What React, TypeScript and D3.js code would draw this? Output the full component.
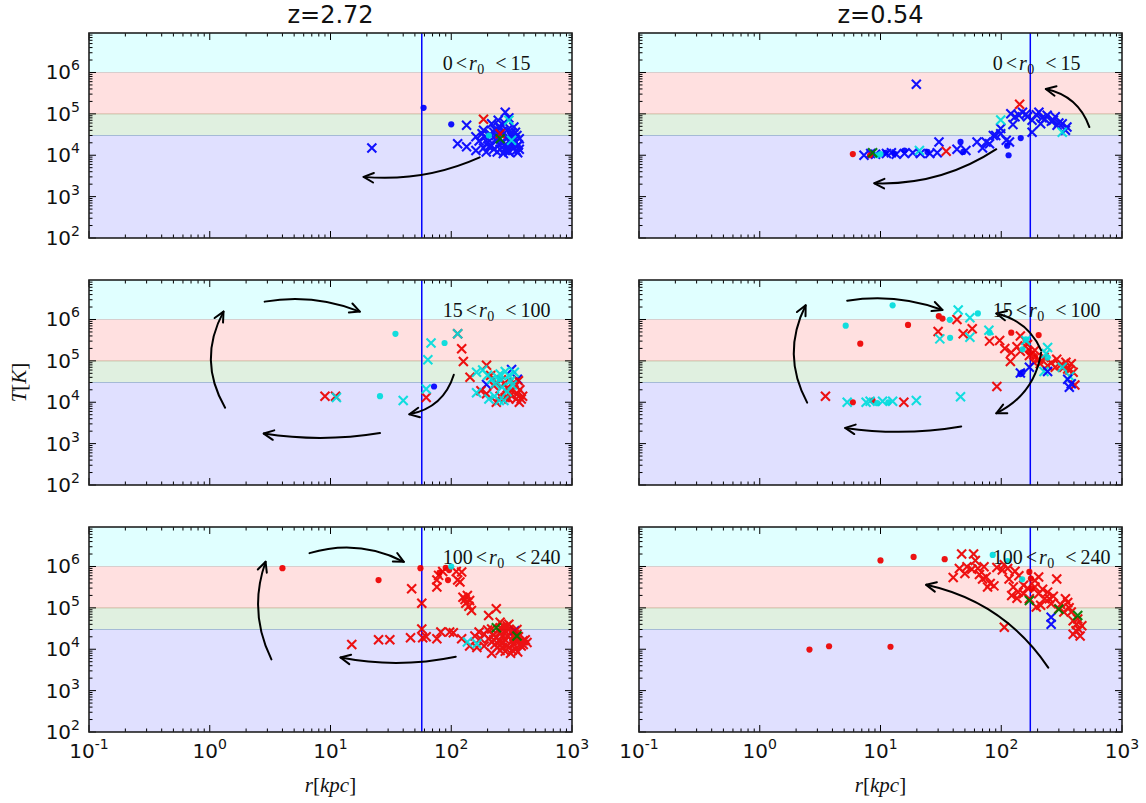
import React from 'react';
import * as d3 from 'd3';

type P = [number, number];

// ---------- data: [r (kpc), T (K)] ----------
const TITLES = ['z=2.72', 'z=0.54'];
const R0_BINS: [string, string][] = [['0', '15'], ['15', '100'], ['100', '240']];
const R_VIR = [57, 174];
const X_TICKS = [0.1, 1, 10, 100, 1000];
const X_EXP = ['-1', '0', '1', '2', '3'];
const Y_TICKS = [1e2, 1e3, 1e4, 1e5, 1e6];
const Y_EXP = ['2', '3', '4', '5', '6'];
const BANDS: [number, number, string][] = [
  [1e6, 1e7, 'cyan'],
  [1e5, 1e6, 'red'],
  [3e4, 1e5, 'green'],
  [1e2, 3e4, 'blue'],
];

// panel A: z=2.72, 0<r0<15
const A_bx: P[] = [[22,1.5e4],[134,5.3e4],[280,1.1e5],[245,7e4],[216,5.8e4],[254,4.4e4],[290,4e4],[340,3.6e4],[180,3.3e4],[160,2.8e4],[200,2.5e4],[235,2.3e4],[270,2.1e4],[330,2.3e4],[355,1.7e4],[290,1.6e4],[254,1.4e4],[216,1.7e4],[113,1.9e4],[134,1.6e4],[160,1.3e4],[195,1.2e4],[300,1.2e4],[355,1.15e4],[270,1.1e4],[235,3e4],[316,2.8e4],[366,2.5e4],[366,1.4e4],[185,4e4],[205,1.6e4],[330,4.8e4],[310,3.2e4],[260,2e4],[225,3.6e4],[345,1.3e4],[280,1.3e4],[240,1.2e4],[170,2.2e4],[190,2.8e4],[210,3.2e4],[230,4.2e4],[250,5e4],[265,3.8e4],[285,2.6e4],[300,2.2e4],[320,1.9e4],[340,2.1e4],[360,1.8e4],[250,1.8e4],[225,1.4e4],[295,1.3e4],[330,1.5e4],[315,3.6e4],[275,6e4],[300,8e4],[350,3e4],[200,2e4],[240,2.6e4],[185,1.5e4]];
const A_bo: P[] = [[59,1.4e5],[100,5.6e4]];
const A_rx: P[] = [[185,7.4e4],[254,3.3e4]];
const A_cx: P[] = [[300,7e4],[316,2.3e4]];
const A_co: P[] = [[205,3e4]];
const A_gx: P[] = [[254,2.5e4]];

// panel B: z=0.54, 0<r0<15
const B_bx: P[] = [[19.8,5.2e5],[7.3,1e4],[9.1,1.05e4],[11.2,1.1e4],[12.3,1.15e4],[15.8,1.1e4],[18.5,1.15e4],[21.4,1.1e4],[25.6,1.1e4],[29.5,1.15e4],[30.5,2.1e4],[43,1.4e4],[51,1.3e4],[63,2.1e4],[70,1.5e4],[80,1.9e4],[86,3e4],[99,3.3e4],[110,2.3e4],[117,2.1e4],[120,1e5],[130,8.5e4],[125,5.5e4],[140,9.3e4],[150,1.1e5],[165,8.5e4],[180,7e4],[180,3.6e4],[205,1.1e5],[218,8e4],[212,5.8e4],[240,9.3e4],[260,6.6e4],[280,8.5e4],[290,5.3e4],[320,5.8e4],[350,4.8e4],[340,4e4],[99,4.4e4],[90,3e4],[75,2.1e4],[195,9.5e4],[230,7.5e4],[270,7e4],[300,6e4],[160,9.8e4],[13.5,1.05e4],[8.3,1.1e4]];
const B_bo: P[] = [[15.8,1.3e4],[24.5,1.2e4],[46,2.1e4],[48.5,1.2e4],[112,1.7e4],[115,1e4],[145,2.6e4],[11,1.15e4],[13,1.1e4]];
const B_ro: P[] = [[5.9,1.07e4],[8.2,1e4]];
const B_rx: P[] = [[35,1.25e4],[142,1.7e5]];
const B_cx: P[] = [[21,1.3e4],[99,7.1e4],[320,3.6e4]];
const B_co: P[] = [[9.4,1e4],[10,1.07e4]];
const B_gx: P[] = [[8.6,1.15e4]];

// panel C: z=2.72, 15<r0<100
const C_bx: P[] = [[316,6.2e4],[353,3.6e4],[196,2.7e4]];
const C_bo: P[] = [[72,2.4e4]];
const C_rx: P[] = [[113,4.5e5],[122,1.95e5],[126,9.6e4],[9,1.4e4],[11,1.4e4],[62,1.3e4],[143,4e4],[196,7.8e4],[176,1.9e4],[196,1.6e4],[236,3e4],[273,2.8e4],[316,1.9e4],[353,1.6e4],[380,1.2e4],[366,1e4],[300,1.2e4],[254,1.4e4],[212,4.4e4],[330,3e4],[390,1.4e4],[236,1e4],[260,3.5e4],[290,2.2e4],[340,2.5e4],[370,2e4],[310,1.5e4],[280,1.3e4],[345,1.2e4],[225,2.5e4],[360,3.3e4]];
const C_cx: P[] = [[68,2.7e5],[64,1.07e5],[113,4.5e5],[11.2,1.3e4],[40,1.1e4],[62,2.1e4],[162,5.3e4],[182,6e4],[216,3.6e4],[254,4.8e4],[300,4.4e4],[263,2.3e4],[228,1.4e4],[273,1.1e4],[162,1.7e4],[310,3.3e4],[205,1.2e4],[333,5.3e4],[240,4e4],[280,5.5e4],[230,2.8e4],[290,1.8e4],[250,1.1e4],[200,4.5e4],[320,2.6e4]];
const C_co: P[] = [[34.5,4.5e5],[88,2.7e5],[25.7,1.4e4],[254,3.6e4]];

// panel D: z=0.54, 15<r0<100
const D_bx: P[] = [[144,5.1e4],[171,7e4],[242,5.5e4],[355,3.6e4],[366,2.3e4],[380,2.8e4]];
const D_bo: P[] = [[144,4.8e4],[150,5.3e4]];
const D_rx: P[] = [[43,1e6],[57.5,6e5],[30,5.1e5],[48.4,4.5e5],[80,3e5],[97,3.1e5],[144,4e5],[107,2e5],[121,1.6e5],[135,2.2e5],[119,9.6e4],[144,1.7e5],[158,2.3e5],[171,1.35e5],[190,1.8e5],[204,1.1e5],[186,9.3e4],[226,1.2e5],[259,8.9e4],[288,1.1e5],[308,7.7e4],[343,9.3e4],[355,6.4e4],[380,8.5e4],[394,5.3e4],[407,2.6e4],[280,7e4],[242,7.7e4],[210,8.5e4],[92,2.4e4],[3.5,1.4e4],[15.6,1e4],[165,2.5e5],[330,7e4],[370,6e4]];
const D_ro: P[] = [[6.8,2.6e5],[16.9,7.4e5],[30.4,1.2e6],[32.6,1.05e6],[121,4.8e5],[204,4.2e5],[5.9,1e4],[8.6,1.1e4],[180,1.5e5],[190,1.3e5],[170,1.7e5]];
const D_cx: P[] = [[44,1.7e6],[55,1.1e6],[31,3.4e5],[55,3.7e5],[79,5.5e5],[160,3.1e5],[242,2.1e5],[235,1.5e5],[226,5.5e4],[320,7e4],[370,4.2e4],[5.3,1e4],[7.6,1e4],[8.2,1.05e4],[10.4,1.05e4],[12.6,1.05e4],[19.8,1.1e4],[46,1.35e4]];
const D_co: P[] = [[12.6,2.2e6],[5.15,7.1e5],[37.5,9.8e5],[64,1.4e6],[37.7,3.6e5],[80,4.8e5],[150,1.9e5],[242,1.2e5],[160,3.3e5],[9.4,9.5e3],[11.6,1e4]];

// panel E: z=2.72, 100<r0<240
const E_bx: P[] = [[335,2.8e4]];
const E_rx: P[] = [[47,2.9e5],[57,1.3e5],[76,4.7e5],[76,3.2e5],[78.6,6.1e5],[85,7.6e5],[110,7.6e5],[113,4.7e5],[122,7.4e5],[118,4.2e5],[125,1.8e5],[136,2e5],[142,1.5e5],[132,1.3e5],[147,8.6e4],[15,1.3e4],[25,1.7e4],[31,1.7e4],[46,1.9e4],[57,3.1e4],[58,1.9e4],[62,2e4],[76,1.8e4],[82,2.6e4],[97,2.6e4],[104,2.5e4],[122,1.8e4],[142,1.2e4],[163,1.1e4],[157,2.1e4],[170,2.6e4],[236,9.5e4],[204,6.5e4],[254,4.5e4],[290,3.7e4],[216,3.1e4],[187,2.3e4],[254,2.6e4],[290,2.1e4],[340,1.8e4],[394,1.6e4],[254,1.6e4],[216,1.5e4],[187,1.2e4],[290,1.2e4],[340,1e4],[254,9.3e3],[216,8e3],[310,8e3],[355,8.6e3],[279,2.8e4],[350,3e4],[236,1.9e4],[204,1.8e4],[270,1.45e4],[330,1.3e4],[380,1.2e4],[424,1.45e4],[175,1.8e4],[300,4e4],[254,3.3e4],[350,2.3e4],[230,1.3e4],[320,1.6e4],[265,1.1e4],[140,1.1e5],[130,1.6e5],[200,2.9e4],[225,2.2e4],[240,1.1e4],[260,1.4e4],[280,1.7e4],[300,1.1e4],[310,2.6e4],[330,2.2e4],[360,2e4],[370,1.3e4],[280,9e3],[320,9.5e3],[345,1.5e4],[395,1.3e4],[265,2.1e4],[225,1.7e4],[300,3e4],[270,3.6e4],[410,1.7e4]];
const E_ro: P[] = [[4,9.1e5],[25,4.7e5],[55.6,9.1e5],[80,7.1e5],[96,8.2e5],[94,4.7e5],[90,9.3e5]];
const E_cx: P[] = [[136,1.5e4],[163,1.35e4]];
const E_co: P[] = [[100,1e6]];
const E_gx: P[] = [[236,3.3e4],[350,2.1e4]];

// panel F: z=0.54, 100<r0<240
const F_bx: P[] = [[259,5.9e4],[259,4e4]];
const F_rx: P[] = [[47,2e6],[59,2e6],[61,1.4e6],[40,5.4e5],[45,8.9e5],[50,6.8e5],[52,9.8e5],[57,8.6e5],[64,8.9e5],[66,6.4e5],[72,9.8e5],[75,5.6e5],[81,3.9e5],[87,3.4e5],[92,9.4e5],[106,1.1e6],[102,8.2e5],[113,8.9e5],[130,7.7e5],[116,5e5],[126,3.2e5],[122,2e5],[138,2.4e5],[135,1.7e5],[153,2.2e5],[153,3.5e5],[171,1.65e5],[190,4.6e5],[204,5.6e5],[190,3.2e5],[204,2.2e5],[212,1.15e5],[229,1.65e5],[242,2.4e5],[250,1.65e5],[259,1.25e5],[195,1.05e5],[288,5e5],[300,9.5e4],[340,1.65e5],[355,1.35e5],[330,7.9e4],[380,7.9e4],[394,4.9e4],[430,5.4e4],[465,3.7e4],[416,2.8e4],[394,2.3e4],[450,2.1e4],[106,3.4e4],[77,3.2e5],[70,5e5],[140,6e5],[165,3e5],[220,2.8e5],[270,1.9e5],[310,1.2e5],[365,1e5],[420,4e4],[440,3e4]];
const F_ro: P[] = [[2.58,9.8e3],[3.75,1.18e4],[12.1,1.15e4],[10,1.4e6],[18.8,1.7e6],[34,1.5e6],[171,7.4e5],[176,5.1e5],[179,2.9e5]];
const F_co: P[] = [[85,1.9e6],[113,1.35e6],[149,4.9e5]];
const F_gx: P[] = [[171,1.5e5],[300,9.3e4],[430,6.5e4]];

// arrows: from / to in data coords, rad = curvature
type Arrow = { from: P; to: P; rad: number };
const A_arrows: Arrow[] = [{ from: [172, 8.9e3], to: [18.8, 3e3], rad: -0.13 }];
const B_arrows: Arrow[] = [
  { from: [91, 1.4e4], to: [8.9, 2.1e3], rad: -0.16 },
  { from: [537, 4.8e4], to: [234, 4e5], rad: 0.28 },
];
const C_arrows: Arrow[] = [
  { from: [2.85, 2.7e6], to: [17.5, 1.55e6], rad: -0.14 },
  { from: [105, 4.6e4], to: [45, 5.1e3], rad: -0.3 },
  { from: [25.7, 1.8e3], to: [2.8, 1.75e3], rad: -0.08 },
  { from: [1.34, 7.4e3], to: [1.3, 1.55e6], rad: -0.28 },
];
const D_arrows: Arrow[] = [
  { from: [5.3, 2.85e6], to: [32.6, 1.7e6], rad: -0.13 },
  { from: [2.47, 9.8e3], to: [2.4, 2.2e6], rad: -0.26 },
  { from: [46.6, 2.6e3], to: [5.1, 2.4e3], rad: -0.08 },
  { from: [214, 1.6e5], to: [91, 5.4e3], rad: -0.26 },
  { from: [214, 1.8e5], to: [91, 1.4e6], rad: 0.25 },
];
const E_arrows: Arrow[] = [
  { from: [6.7, 2.1e6], to: [40.5, 1.3e6], rad: -0.2 },
  { from: [3.24, 5.7e3], to: [2.9, 1.3e6], rad: -0.21 },
  { from: [109, 6.6e3], to: [12.1, 6.3e3], rad: -0.1 },
];
const F_arrows: Arrow[] = [{ from: [245, 3.6e3], to: [23.9, 3.6e5], rad: 0.2 }];

// ---------- layout / style ----------
const W = 1146, H = 803;
const COL_LEFT = [89, 639];
const PW = 483;
const ROW_TOP = [33, 280, 527];
const PH = 205;
const X_DOMAIN: [number, number] = [0.1, 1000];
const Y_DOMAIN: [number, number] = [1e2, 9e6];
const COLOR: Record<string, string> = { b: '#0000ff', r: '#ee0000', c: '#00dddd', g: '#007a00' };
const BAND_COLOR: Record<string, string> = { cyan: '#00ffff', red: '#ff0000', green: '#008000', blue: '#0000ff' };

type Series = { pts: P[]; c: string; m: 'x' | 'o' };
type Panel = { row: number; col: number; series: Series[]; arrows: Arrow[] };

const PANELS: Panel[] = [
  { row: 0, col: 0, arrows: A_arrows, series: [
    { pts: A_bx, c: 'b', m: 'x' }, { pts: A_bo, c: 'b', m: 'o' }, { pts: A_rx, c: 'r', m: 'x' },
    { pts: A_cx, c: 'c', m: 'x' }, { pts: A_co, c: 'c', m: 'o' }, { pts: A_gx, c: 'g', m: 'x' }] },
  { row: 0, col: 1, arrows: B_arrows, series: [
    { pts: B_bx, c: 'b', m: 'x' }, { pts: B_bo, c: 'b', m: 'o' }, { pts: B_ro, c: 'r', m: 'o' },
    { pts: B_rx, c: 'r', m: 'x' }, { pts: B_cx, c: 'c', m: 'x' }, { pts: B_co, c: 'c', m: 'o' },
    { pts: B_gx, c: 'g', m: 'x' }] },
  { row: 1, col: 0, arrows: C_arrows, series: [
    { pts: C_bx, c: 'b', m: 'x' }, { pts: C_bo, c: 'b', m: 'o' }, { pts: C_rx, c: 'r', m: 'x' },
    { pts: C_cx, c: 'c', m: 'x' }, { pts: C_co, c: 'c', m: 'o' }] },
  { row: 1, col: 1, arrows: D_arrows, series: [
    { pts: D_rx, c: 'r', m: 'x' }, { pts: D_ro, c: 'r', m: 'o' }, { pts: D_cx, c: 'c', m: 'x' },
    { pts: D_co, c: 'c', m: 'o' }, { pts: D_bx, c: 'b', m: 'x' }, { pts: D_bo, c: 'b', m: 'o' }] },
  { row: 2, col: 0, arrows: E_arrows, series: [
    { pts: E_bx, c: 'b', m: 'x' }, { pts: E_rx, c: 'r', m: 'x' }, { pts: E_ro, c: 'r', m: 'o' },
    { pts: E_cx, c: 'c', m: 'x' }, { pts: E_co, c: 'c', m: 'o' }, { pts: E_gx, c: 'g', m: 'x' }] },
  { row: 2, col: 1, arrows: F_arrows, series: [
    { pts: F_rx, c: 'r', m: 'x' }, { pts: F_ro, c: 'r', m: 'o' }, { pts: F_co, c: 'c', m: 'o' },
    { pts: F_bx, c: 'b', m: 'x' }, { pts: F_gx, c: 'g', m: 'x' }] },
];

function minorTicks(lo: number, hi: number): number[] {
  const out: number[] = [];
  for (let e = Math.floor(Math.log10(lo)); e <= Math.ceil(Math.log10(hi)); e++) {
    for (let k = 2; k <= 9; k++) {
      const v = k * Math.pow(10, e);
      if (v > lo * 1.0001 && v < hi * 0.9999) out.push(v);
    }
  }
  return out;
}

const SANS = "'DejaVu Sans', sans-serif";
const SERIF = "'Liberation Serif', 'DejaVu Serif', serif";
const XS = 4.5; // half size of x marker

function PanelView({ p, idx }: { p: Panel; idx: number }) {
  const x0 = COL_LEFT[p.col], y0 = ROW_TOP[p.row];
  const xs = d3.scaleLog().domain(X_DOMAIN).range([x0, x0 + PW]);
  const ys = d3.scaleLog().domain(Y_DOMAIN).range([y0 + PH, y0]).clamp(true);
  const clipId = `clip${idx}`;
  const xMinor = minorTicks(X_DOMAIN[0], X_DOMAIN[1]);
  const yMinor = minorTicks(Y_DOMAIN[0], Y_DOMAIN[1]);
  const [lo, hi] = R0_BINS[p.row];
  const MAJ = 7, MIN = 3.5;

  const arrowEls = p.arrows.map((a, i) => {
    const sx = xs(a.from[0]), sy = ys(a.from[1]);
    const ex = xs(a.to[0]), ey = ys(a.to[1]);
    const dx = ex - sx, dy = ey - sy;
    const cx = (sx + ex) / 2 + a.rad * -dy;
    const cy = (sy + ey) / 2 + a.rad * dx;
    const path = d3.path();
    path.moveTo(sx, sy);
    path.quadraticCurveTo(cx, cy, ex, ey);
    const ang = Math.atan2(ey - cy, ex - cx);
    const hl = 11, ha = 0.45;
    const h1x = ex - hl * Math.cos(ang - ha), h1y = ey - hl * Math.sin(ang - ha);
    const h2x = ex - hl * Math.cos(ang + ha), h2y = ey - hl * Math.sin(ang + ha);
    return (
      <g key={i} fill="none" stroke="#000" strokeWidth={2} strokeLinecap="round" strokeLinejoin="round">
        <path d={path.toString()} />
        <path d={`M${h1x},${h1y}L${ex},${ey}L${h2x},${h2y}`} />
      </g>
    );
  });

  return (
    <g>
      <defs>
        <clipPath id={clipId}><rect x={x0} y={y0} width={PW} height={PH} /></clipPath>
      </defs>
      <g clipPath={`url(#${clipId})`}>
        {BANDS.map(([a, b, c], i) => (
          <rect key={i} x={x0} width={PW} y={ys(b)} height={ys(a) - ys(b)}
            fill={BAND_COLOR[c]} fillOpacity={0.12} stroke={BAND_COLOR[c]} strokeOpacity={0.14} strokeWidth={1} />
        ))}
        <line x1={xs(R_VIR[p.col])} x2={xs(R_VIR[p.col])} y1={y0} y2={y0 + PH} stroke="#0000ff" strokeWidth={1.5} />
        {p.series.map((s, si) => (
          <g key={si} opacity={0.92}>
            {s.pts.map((d, k) => {
              const px = xs(d[0]), py = ys(d[1]);
              return s.m === 'x'
                ? <path key={k} d={`M${px - XS},${py - XS}L${px + XS},${py + XS}M${px - XS},${py + XS}L${px + XS},${py - XS}`} stroke={COLOR[s.c]} strokeWidth={2.1} fill="none" />
                : <circle key={k} cx={px} cy={py} r={3.1} fill={COLOR[s.c]} />;
            })}
          </g>
        ))}
        {arrowEls}
      </g>
      <text x={xs(85)} y={ys(1e6) - 2.5} fontFamily={SERIF} fontSize={20} fill="#111">
        <tspan>{lo}</tspan>
        <tspan dx={3}>&lt;</tspan>
        <tspan dx={2} fontStyle="italic">r</tspan>
        <tspan dx={0.5} dy={4} fontSize={14}>0</tspan>
        <tspan dx={11} dy={-4}>&lt;</tspan>
        <tspan dx={4}>{hi}</tspan>
      </text>
      {/* ticks */}
      <g stroke="#000" strokeWidth={1}>
        {X_TICKS.map((t, i) => (
          <g key={'xm' + i}>
            <line x1={xs(t)} x2={xs(t)} y1={y0 + PH} y2={y0 + PH - MAJ} />
            <line x1={xs(t)} x2={xs(t)} y1={y0} y2={y0 + MAJ} />
          </g>
        ))}
        {xMinor.map((t, i) => (
          <g key={'xn' + i}>
            <line x1={xs(t)} x2={xs(t)} y1={y0 + PH} y2={y0 + PH - MIN} />
            <line x1={xs(t)} x2={xs(t)} y1={y0} y2={y0 + MIN} />
          </g>
        ))}
        {Y_TICKS.map((t, i) => (
          <g key={'ym' + i}>
            <line x1={x0} x2={x0 + MAJ} y1={ys(t)} y2={ys(t)} />
            <line x1={x0 + PW} x2={x0 + PW - MAJ} y1={ys(t)} y2={ys(t)} />
          </g>
        ))}
        {yMinor.map((t, i) => (
          <g key={'yn' + i}>
            <line x1={x0} x2={x0 + MIN} y1={ys(t)} y2={ys(t)} />
            <line x1={x0 + PW} x2={x0 + PW - MIN} y1={ys(t)} y2={ys(t)} />
          </g>
        ))}
      </g>
      <rect x={x0} y={y0} width={PW} height={PH} fill="none" stroke="#222" strokeWidth={1.6} />
      {p.col === 0 && Y_TICKS.map((t, i) => (
        <text key={'yl' + i} x={x0 - 9} y={ys(t) + 7} textAnchor="end" fontFamily={SANS} fontSize={20} fill="#111">
          10<tspan dy={-9} fontSize={14}>{Y_EXP[i]}</tspan>
        </text>
      ))}
      {p.row === 2 && X_TICKS.map((t, i) => (
        <text key={'xl' + i} x={xs(t)} y={y0 + PH + 26} textAnchor="middle" fontFamily={SANS} fontSize={20} fill="#111">
          10<tspan dy={-9} fontSize={14}>{X_EXP[i]}</tspan>
        </text>
      ))}
      {p.row === 0 && (
        <text x={x0 + PW / 2} y={y0 - 10} textAnchor="middle" fontFamily={SANS} fontSize={24} fill="#111">{TITLES[p.col]}</text>
      )}
      {p.row === 2 && (
        <text x={x0 + PW / 2} y={y0 + PH + 60} textAnchor="middle" fontFamily={SERIF} fontSize={21} fill="#111">
          <tspan fontStyle="italic">r</tspan>[<tspan fontStyle="italic">kpc</tspan>]
        </text>
      )}
    </g>
  );
}

export default function App() {
  const midY = ROW_TOP[1] + PH / 2;
  return (
    <svg width={W} height={H} style={{ position: 'absolute', left: 0, top: 0, background: '#fff' }}>
      <rect width={W} height={H} fill="#fff" />
      {PANELS.map((p, i) => <PanelView key={i} p={p} idx={i} />)}
      <text transform={`translate(26,${midY}) rotate(-90)`} textAnchor="middle" fontFamily={SERIF} fontSize={21} fill="#111">
        <tspan fontStyle="italic">T</tspan>[<tspan fontStyle="italic">K</tspan>]
      </text>
    </svg>
  );
}
